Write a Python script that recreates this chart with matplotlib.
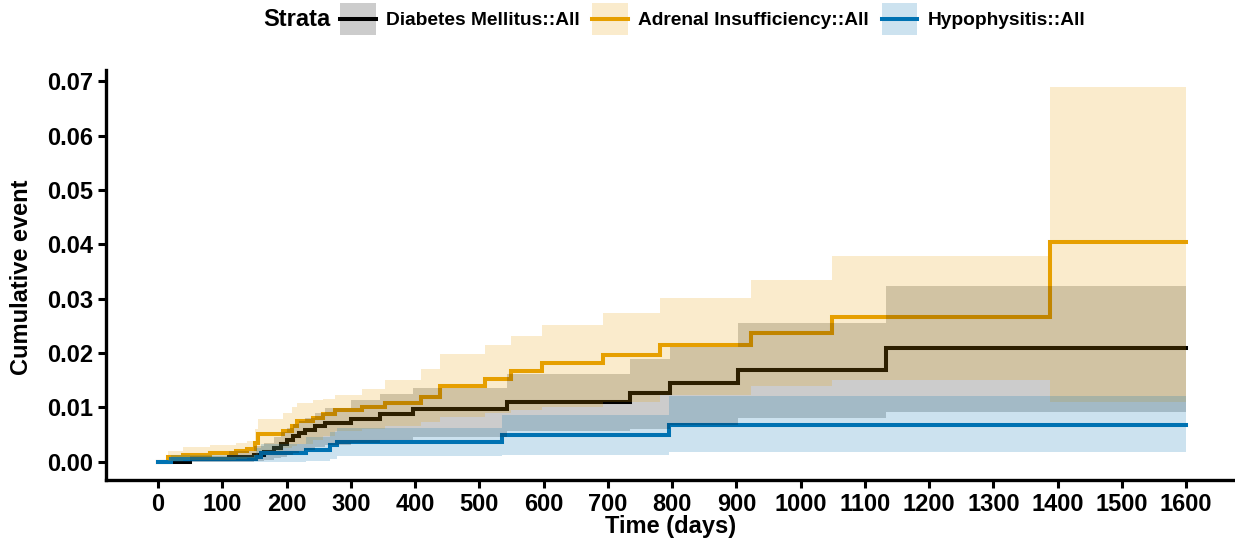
import matplotlib
matplotlib.use('Agg')
import matplotlib.pyplot as plt
from matplotlib.patches import Patch
from matplotlib.lines import Line2D
from matplotlib.legend_handler import HandlerLine2D

plt.rcParams['font.family'] = ['Liberation Sans', 'DejaVu Sans']
plt.rcParams['font.weight'] = 'bold'

# Diabetes Mellitus::All
dm_t = [0, 50, 110, 150, 165, 180, 192, 200, 210, 220, 229, 244, 260, 301, 346, 397, 543, 735, 797, 903, 1133]
dm_est = [0, .0004, .0008, .0012, .0018, .0025, .0032, .0040, .0047, .0053, .0059, .0065, .0071, .0078,
          .0087, .0097, .0109, .0126, .0145, .0169, .0209]
dm_hi = [0, .0010, .0020, .0028, .0035, .0045, .0055, .0062, .0070, .0075, .0080, .0090, .0098, .0114,
         .0125, .0135, .0161, .0188, .0211, .0255, .0323]
dm_lo = [0, 0, 0, .0001, .0003, .0006, .0009, .0012, .0016, .0019, .0022, .0026, .0030, .0034,
         .0040, .0046, .0056, .0060, .0067, .0081, .0092]

# Adrenal Insufficiency::All
ai_t = [0, 16, 39, 81, 122, 138, 151, 155, 195, 208, 216, 241, 257, 275, 317, 353, 410, 439, 509, 550,
        597, 693, 781, 923, 1049, 1388]
ai_est = [0, .0009, .0012, .0015, .0019, .0023, .0035, .0050, .0056, .0065, .0074, .0081, .0087, .0095,
          .0101, .0108, .0119, .0140, .0152, .0167, .0181, .0196, .0215, .0237, .0266, .0404]
ai_hi = [0, .0020, .0026, .0030, .0035, .0038, .0060, .0078, .0090, .0100, .0108, .0113, .0116, .0123,
         .0133, .0151, .0170, .0198, .0214, .0232, .0251, .0273, .0301, .0334, .0379, .0689]
ai_lo = [0, .0001, .0002, .0003, .0005, .0007, .0012, .0020, .0025, .0029, .0032, .0040, .0047, .0056,
         .0060, .0066, .0072, .0082, .0090, .0095, .0100, .0110, .0122, .0139, .0151, .0110]

# Hypophysitis::All
hy_t = [0, 20, 152, 160, 230, 268, 278, 535, 795]
hy_est = [0, .0004, .0009, .0015, .0022, .0030, .0036, .0049, .0068]
hy_hi = [0, .0012, .0025, .0032, .0045, .0055, .0062, .0086, .0121]
hy_lo = [0, 0, 0, 0, .0001, .0004, .0010, .0012, .0017]

t_end = 1600
labels = ['Diabetes Mellitus::All', 'Adrenal Insufficiency::All', 'Hypophysitis::All']
colors = ['#000000', '#E69F00', '#0072B2']
x_ticks = list(range(0, 1700, 100))
y_ticks = [0.00, 0.01, 0.02, 0.03, 0.04, 0.05, 0.06, 0.07]

series = [(dm_t, dm_est, dm_hi, dm_lo), (ai_t, ai_est, ai_hi, ai_lo), (hy_t, hy_est, hy_hi, hy_lo)]


class CenteredLine(HandlerLine2D):
    # put the key line in the middle of the key box
    def create_artists(self, legend, orig_handle, xdescent, ydescent, width, height, fontsize, trans):
        arts = super().create_artists(legend, orig_handle, xdescent, ydescent, width, height,
                                      fontsize, trans)
        for a in arts:
            a.set_ydata([height / 2 - ydescent] * len(a.get_ydata()))
        return arts


fig = plt.figure(figsize=(12.35, 5.43), dpi=100)
ax = fig.add_axes([0.0858, 0.116, 0.9142, 0.755])

# lines first, ribbons drawn on top with alpha (like ggplot output)
for (t, est, hi, lo), col in zip(series, colors):
    tt = list(t) + [t_end]
    ax.step(tt, list(est) + [est[-1]], where='post', color=col, lw=2.9, zorder=2,
            solid_joinstyle='miter')
for (t, est, hi, lo), col in zip(series, colors):
    tt = list(t) + [t_end]
    ax.fill_between(tt, list(lo) + [lo[-1]], list(hi) + [hi[-1]], step='post',
                    color=col, alpha=0.2, lw=0, zorder=3)

ax.set_xlim(-81, 1676)
ax.set_ylim(-0.0034, 0.0721)
ax.set_xticks(x_ticks)
ax.set_yticks(y_ticks)
ax.set_yticklabels([f'{v:.2f}' for v in y_ticks])
ax.tick_params(axis='both', labelsize=17, width=2.2, length=6, color='black', pad=3)
for lab in ax.get_xticklabels() + ax.get_yticklabels():
    lab.set_fontweight('bold')

for s in ['top', 'right']:
    ax.spines[s].set_visible(False)
for s in ['left', 'bottom']:
    ax.spines[s].set_linewidth(2.4)

fig.text(0.5 * (0.0858 + 1.0), 1 - 527 / 543, 'Time (days)', fontsize=17, fontweight='bold',
         ha='center', va='center')
fig.text(22 / 1235, 1 - 277 / 543, 'Cumulative event', fontsize=17, fontweight='bold',
         ha='center', va='center', rotation=90)

# legend at the top with the title on the left
fig.text(0.2135, 0.965, 'Strata', fontsize=17, fontweight='bold', va='center', ha='left')
handles = [(Patch(facecolor=c, alpha=0.2, edgecolor='none'), Line2D([], [], color=c, lw=2.9))
           for c in colors]
fig.legend(handles, labels, loc='center left', bbox_to_anchor=(0.2755, 0.965), ncol=3,
           frameon=False, fontsize=13.8, handlelength=1.85, handleheight=2.2,
           handletextpad=0.55, columnspacing=0.65, borderaxespad=0, borderpad=0,
           handler_map={Line2D: CenteredLine()})

fig.savefig('out.png', dpi=100)
